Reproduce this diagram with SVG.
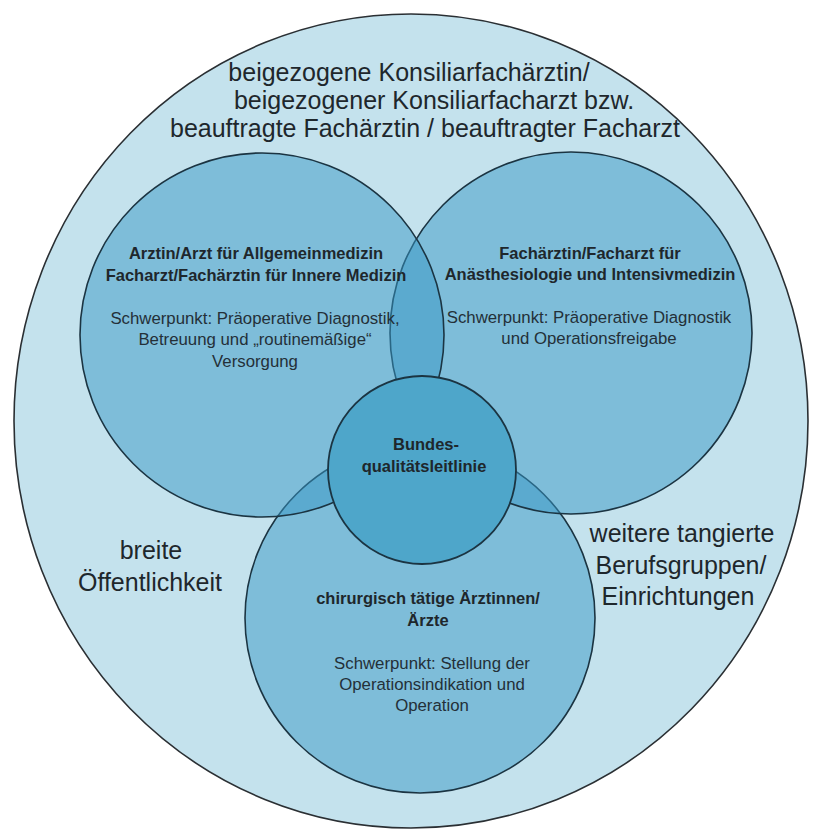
<svg xmlns="http://www.w3.org/2000/svg" width="814" height="831" viewBox="0 0 814 831">
<defs>
<style>
.bg{fill:#ffffff}
.outer{fill:#c4e2ed;stroke:#2a2f33;stroke-width:1.6}
.circ{fill:#3798c6;fill-opacity:0.5;stroke:#1b3442;stroke-width:1.6}
.core{fill:#4ea6ca;stroke:#1b3442;stroke-width:1.8}
text{font-family:"Liberation Sans",Arial,sans-serif;fill:#1e272c;text-anchor:middle}
.big{font-size:25px}
.b{font-size:16.5px;font-weight:bold}
.r{font-size:16.8px;fill:#243038}
</style>
</defs>
<rect class="bg" x="0" y="0" width="814" height="831"/>
<g id="outer">
<ellipse class="outer" cx="411" cy="421" rx="397" ry="407"/>
<text class="big" x="409" y="81">beigezogene Konsiliarfachärztin/</text>
<text class="big" x="434" y="109">beigezogener Konsiliarfacharzt bzw.</text>
<text class="big" x="425" y="137">beauftragte Fachärztin / beauftragter Facharzt</text>
</g>
<g id="breite">
<text class="big" x="151" y="559">breite</text>
<text class="big" x="150" y="591">Öffentlichkeit</text>
</g>
<g id="weitere">
<text class="big" x="682" y="542">weitere tangierte</text>
<text class="big" x="681" y="574">Berufsgruppen/</text>
<text class="big" x="678" y="605">Einrichtungen</text>
</g>
<g id="chirurgie">
<circle class="circ" cx="420" cy="618" r="175"/>
<text class="b" x="428" y="604">chirurgisch tätige Ärztinnen/</text>
<text class="b" x="428" y="626">Ärzte</text>
<text class="r" x="432" y="669">Schwerpunkt: Stellung der</text>
<text class="r" x="432" y="690">Operationsindikation und</text>
<text class="r" x="432" y="711">Operation</text>
</g>
<g id="anaesthesie">
<circle class="circ" cx="571" cy="333" r="181"/>
<text class="b" x="590" y="259">Fachärztin/Facharzt für</text>
<text class="b" x="590" y="280">Anästhesiologie und Intensivmedizin</text>
<text class="r" x="589" y="323">Schwerpunkt: Präoperative Diagnostik</text>
<text class="r" x="589" y="344">und Operationsfreigabe</text>
</g>
<g id="allgemein">
<circle class="circ" cx="262" cy="335" r="182"/>
<text class="b" x="256" y="259">Arztin/Arzt für Allgemeinmedizin</text>
<text class="b" x="256" y="281">Facharzt/Fachärztin für Innere Medizin</text>
<text class="r" x="255" y="324">Schwerpunkt: Präoperative Diagnostik,</text>
<text class="r" x="255" y="345">Betreuung und „routinemäßige“</text>
<text class="r" x="255" y="367">Versorgung</text>
</g>
<g id="leitlinie">
<circle class="core" cx="422" cy="470" r="94"/>
<text class="b" x="426" y="450">Bundes-</text>
<text class="b" x="424" y="472">qualitätsleitlinie</text>
</g>
<g id="connectors"/>
</svg>
